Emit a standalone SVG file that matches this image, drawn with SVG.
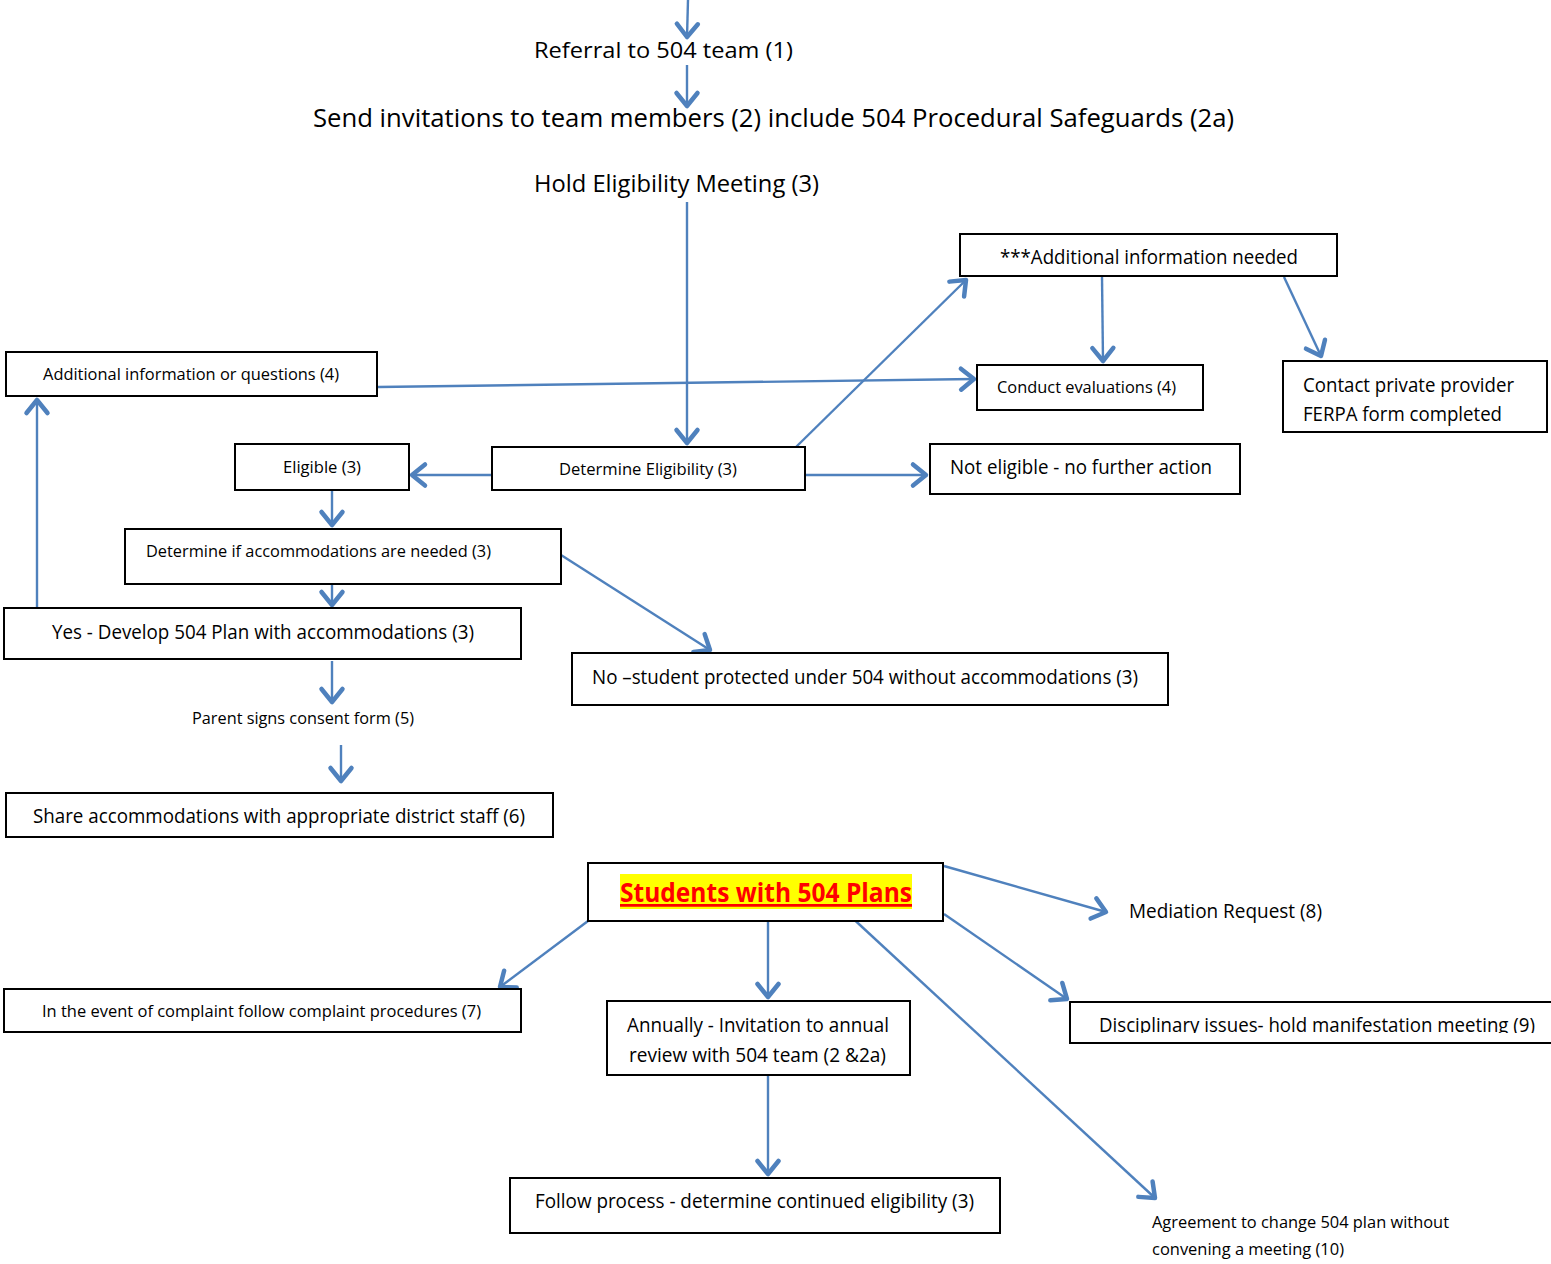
<svg xmlns="http://www.w3.org/2000/svg" width="1551" height="1264" viewBox="0 0 1551 1264">
<style>
.box{fill:#fff;stroke:#000;stroke-width:2}
.t{font-family:"Open Sans","Liberation Sans",sans-serif;fill:#000}
.s{font-size:17px}
.m{font-size:19.5px}
.c{stroke:#4F81BD;stroke-width:2.4;fill:none;marker-end:url(#arr)}
</style>
<defs>
<marker id="arr" markerUnits="userSpaceOnUse" markerWidth="40" markerHeight="40" viewBox="-20 -20 40 40" refX="0" refY="0" orient="auto">
<path d="M-13,-10.5 L0,0 L-13,10.5" fill="none" stroke="#4F81BD" stroke-width="4.5" stroke-linecap="round" stroke-linejoin="round"/>
</marker>
<clipPath id="clipContact"><rect x="1283" y="361" width="265" height="69"/></clipPath>
<clipPath id="clipDisc"><rect x="1070" y="1002" width="490" height="31"/></clipPath>
</defs>

<g id="connectors">
<line class="c" x1="688" y1="0" x2="687" y2="37"/>
<line class="c" x1="687" y1="65" x2="687" y2="106"/>
<line class="c" x1="687" y1="202" x2="687" y2="443"/>
<line class="c" x1="796" y1="447" x2="966" y2="280"/>
<line class="c" x1="1102" y1="277" x2="1103" y2="361"/>
<line class="c" x1="1284" y1="277" x2="1321" y2="356"/>
<line class="c" x1="378" y1="387" x2="974" y2="379"/>
<line class="c" x1="492" y1="475" x2="412" y2="475"/>
<line class="c" x1="806" y1="475" x2="926" y2="475"/>
<line class="c" x1="332" y1="490" x2="332" y2="525"/>
<line class="c" x1="332" y1="585" x2="332" y2="605"/>
<line class="c" x1="37" y1="608" x2="37" y2="400"/>
<line class="c" x1="561" y1="555" x2="710" y2="650"/>
<line class="c" x1="332" y1="661" x2="332" y2="702"/>
<line class="c" x1="341" y1="745" x2="341" y2="781"/>
<line class="c" x1="944" y1="866" x2="1106" y2="912"/>
<line class="c" x1="944" y1="914" x2="1067" y2="999"/>
<line class="c" x1="588" y1="921" x2="500" y2="987"/>
<line class="c" x1="768" y1="922" x2="768" y2="997"/>
<line class="c" x1="847" y1="913" x2="1155" y2="1198"/>
<line class="c" x1="768" y1="1075" x2="768" y2="1174"/>
</g>

<g id="n-referral"><text class="t" x="534" y="58" font-size="22.5" textLength="259" lengthAdjust="spacingAndGlyphs">Referral to 504 team (1)</text></g>
<g id="n-invitations"><text class="t" x="313" y="127" font-size="25.5" textLength="921" lengthAdjust="spacingAndGlyphs">Send invitations to team members (2) include 504 Procedural Safeguards (2a)</text></g>
<g id="n-hold"><text class="t" x="534" y="192" font-size="23" textLength="285" lengthAdjust="spacingAndGlyphs">Hold Eligibility Meeting (3)</text></g>

<g id="n-addinfo-needed"><rect class="box" x="960" y="234" width="377" height="42"/><text class="t m" x="1000" y="264" textLength="298" lengthAdjust="spacingAndGlyphs">***Additional information needed</text></g>
<g id="n-addinfo-q"><rect class="box" x="6" y="352" width="371" height="44"/><text class="t s" x="43" y="380" textLength="296" lengthAdjust="spacingAndGlyphs">Additional information or questions (4)</text></g>
<g id="n-conduct"><rect class="box" x="977" y="365" width="226" height="45"/><text class="t s" x="997" y="393" textLength="179" lengthAdjust="spacingAndGlyphs">Conduct evaluations (4)</text></g>
<g id="n-contact"><rect class="box" x="1283" y="361" width="264" height="71"/><g clip-path="url(#clipContact)"><text class="t m" x="1303" y="392" textLength="211" lengthAdjust="spacingAndGlyphs">Contact private provider</text><text class="t m" x="1303" y="421" textLength="199" lengthAdjust="spacingAndGlyphs">FERPA form completed</text></g></g>
<g id="n-eligible"><rect class="box" x="235" y="444" width="174" height="46"/><text class="t s" x="283" y="473" textLength="78" lengthAdjust="spacingAndGlyphs">Eligible (3)</text></g>
<g id="n-determine"><rect class="box" x="492" y="447" width="313" height="43"/><text class="t s" x="559" y="475" textLength="178" lengthAdjust="spacingAndGlyphs">Determine Eligibility (3)</text></g>
<g id="n-noteligible"><rect class="box" x="930" y="444" width="310" height="50"/><text class="t m" x="950" y="474" textLength="262" lengthAdjust="spacingAndGlyphs">Not eligible - no further action</text></g>
<g id="n-accom"><rect class="box" x="125" y="529" width="436" height="55"/><text class="t s" x="146" y="557" textLength="345" lengthAdjust="spacingAndGlyphs">Determine if accommodations are needed (3)</text></g>
<g id="n-yes"><rect class="box" x="4" y="608" width="517" height="51"/><text class="t m" x="52" y="639" textLength="422" lengthAdjust="spacingAndGlyphs">Yes - Develop 504 Plan with accommodations (3)</text></g>
<g id="n-no"><rect class="box" x="572" y="653" width="596" height="52"/><text class="t m" x="592" y="684" textLength="546" lengthAdjust="spacingAndGlyphs">No –student protected under 504 without accommodations (3)</text></g>
<g id="n-parent"><text class="t s" x="192" y="724" textLength="222" lengthAdjust="spacingAndGlyphs">Parent signs consent form (5)</text></g>
<g id="n-share"><rect class="box" x="6" y="793" width="547" height="44"/><text class="t m" x="33" y="823" textLength="492" lengthAdjust="spacingAndGlyphs">Share accommodations with appropriate district staff (6)</text></g>

<g id="n-students"><rect class="box" x="588" y="863" width="355" height="58"/><rect x="620" y="874" width="292" height="35" fill="#ffff00"/><text x="620" y="902" font-family="'Open Sans','Liberation Sans',sans-serif" font-weight="bold" font-size="27.5" fill="#ff0000" text-decoration="underline" textLength="292" lengthAdjust="spacingAndGlyphs">Students with 504 Plans</text></g>
<g id="n-mediation"><text class="t m" x="1129" y="918" textLength="193" lengthAdjust="spacingAndGlyphs">Mediation Request (8)</text></g>
<g id="n-complaint"><rect class="box" x="4" y="989" width="517" height="43"/><text class="t s" x="42" y="1017" textLength="439" lengthAdjust="spacingAndGlyphs">In the event of complaint follow complaint procedures (7)</text></g>
<g id="n-annual"><rect class="box" x="607" y="1001" width="303" height="74"/><text class="t m" x="627" y="1032" textLength="262" lengthAdjust="spacingAndGlyphs">Annually - Invitation to annual</text><text class="t m" x="629" y="1062" textLength="257" lengthAdjust="spacingAndGlyphs">review with 504 team (2 &amp;2a)</text></g>
<g id="n-disciplinary"><rect class="box" x="1070" y="1002" width="490" height="41"/><g clip-path="url(#clipDisc)"><text class="t m" x="1099" y="1032" textLength="436" lengthAdjust="spacingAndGlyphs">Disciplinary issues- hold manifestation meeting (9)</text></g></g>
<g id="n-follow"><rect class="box" x="510" y="1178" width="490" height="55"/><text class="t m" x="535" y="1208" textLength="439" lengthAdjust="spacingAndGlyphs">Follow process - determine continued eligibility (3)</text></g>
<g id="n-agreement"><text class="t s" x="1152" y="1228" textLength="297" lengthAdjust="spacingAndGlyphs">Agreement to change 504 plan without</text><text class="t s" x="1152" y="1255" textLength="192" lengthAdjust="spacingAndGlyphs">convening a meeting (10)</text></g>
</svg>
